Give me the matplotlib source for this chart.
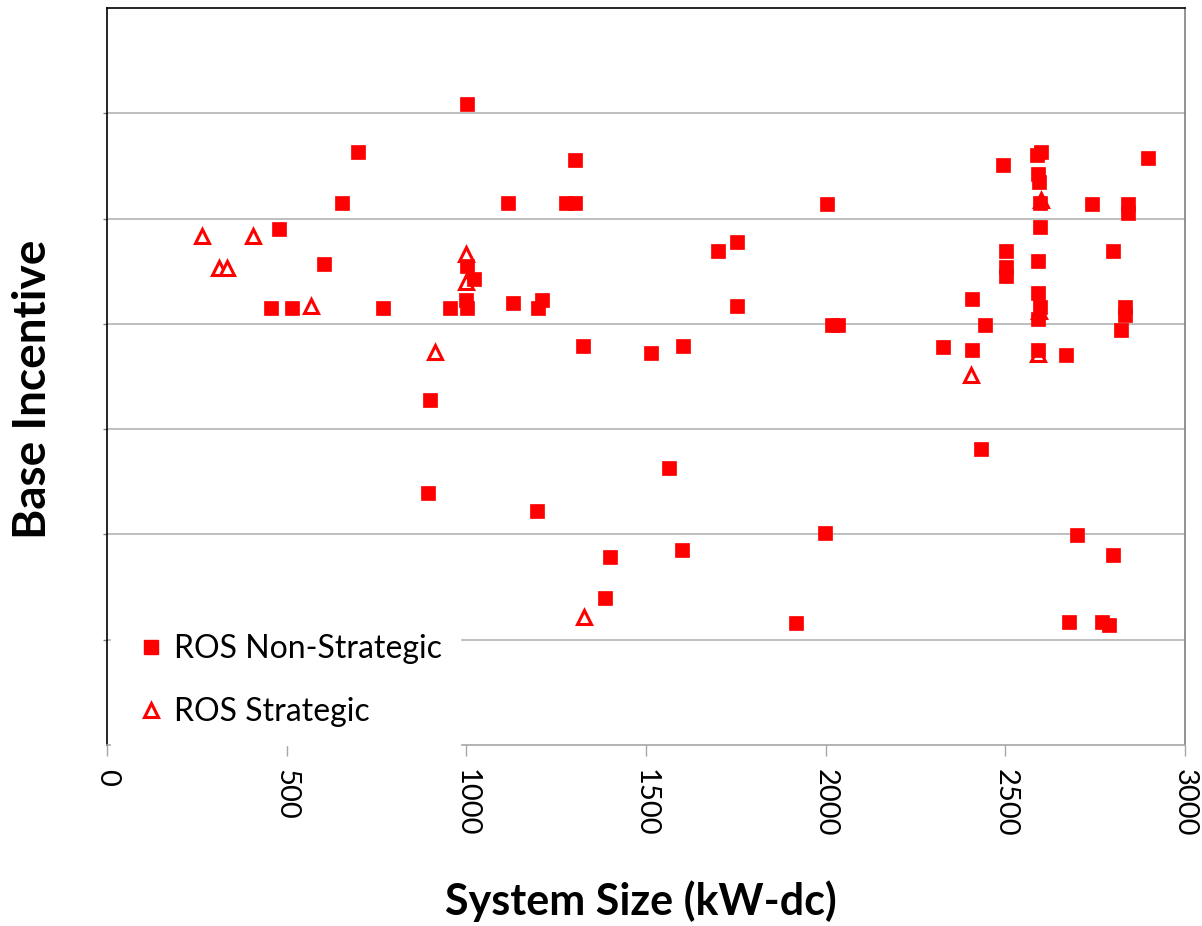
import matplotlib
matplotlib.use("Agg")
import matplotlib.pyplot as plt
from matplotlib.lines import Line2D

plt.rcParams["font.family"] = ["Lato", "DejaVu Sans"]

# ROS Non-Strategic: system size (kW-dc) and base incentive (axis has no labels)
non_strat_size = [1001, 698, 653, 480, 605, 456, 514, 768, 955, 1003, 998, 1003, 1022,
                  1302, 1115, 1277, 1302, 2003, 1701, 1752, 1129, 1210, 1200, 1752,
                  2018, 2034, 1324, 1514, 1604, 1565, 1196, 1998, 1399, 1599, 1386,
                  1917, 899, 894, 2494, 2599, 2589, 2592, 2595, 2597, 2740, 2840,
                  2840, 2896, 2597, 2501, 2503, 2503, 2592, 2800, 2407, 2592, 2597,
                  2592, 2833, 2833, 2821, 2443, 2327, 2407, 2592, 2669, 2433, 2700,
                  2800, 2676, 2768, 2789]
non_strat_inc = [6.09, 5.63, 5.15, 4.90, 4.57, 4.15, 4.15, 4.15, 4.15, 4.15, 4.23, 4.55, 4.43,
                 5.56, 5.15, 5.15, 5.15, 5.14, 4.69, 4.78, 4.20, 4.23, 4.15, 4.17,
                 3.99, 3.99, 3.79, 3.72, 3.79, 2.63, 2.22, 2.01, 1.79, 1.85, 1.40,
                 1.16, 3.28, 2.39, 5.51, 5.63, 5.60, 5.42, 5.35, 5.15, 5.14, 5.14,
                 5.05, 5.58, 4.92, 4.69, 4.54, 4.45, 4.60, 4.69, 4.24, 4.29, 4.16,
                 4.05, 4.16, 4.08, 3.94, 3.99, 3.78, 3.75, 3.75, 3.70, 2.81, 1.99,
                 1.80, 1.17, 1.17, 1.14]

# ROS Strategic
strat_size = [263, 405, 311, 333, 568, 1000, 999, 913, 1328, 2405, 2599, 2594, 2592]
strat_inc = [4.83, 4.83, 4.53, 4.53, 4.17, 4.66, 4.40, 3.73, 1.22, 3.51, 5.18, 4.12, 3.71]

x_ticks = [0, 500, 1000, 1500, 2000, 2500, 3000]
grid_levels = [1, 2, 3, 4, 5, 6]

RED = "#FF0000"

fig = plt.figure(figsize=(12.02, 9.26), dpi=100)
ax = fig.add_axes([107 / 1202, 181 / 926, 1078 / 1202, 737 / 926])

# triangles first so the squares sit on top, like the original
ax.plot(strat_size, strat_inc, ls="none", marker="^", ms=9.5, mew=2.2,
        mec=RED, mfc="white", zorder=3)
ax.plot(non_strat_size, non_strat_inc, ls="none", marker="s", ms=10.3,
        mec=RED, mfc=RED, mew=0.5, zorder=4)

ax.set_xlim(0, 3000)
ax.set_ylim(0, 7)
ax.set_xticks(x_ticks)
ax.set_xticklabels([str(v) for v in x_ticks], rotation=270, fontsize=21)
ax.set_yticks(grid_levels)
ax.set_yticklabels([])
ax.grid(axis="y", color="#B3B3B3", lw=1.2, zorder=1)
ax.set_axisbelow(True)

ax.tick_params(axis="x", direction="out", length=8, width=1, color="#A6A6A6", pad=9)
ax.tick_params(axis="y", direction="out", length=3, width=1, color="#808080")

ax.spines["left"].set_color("black")
ax.spines["top"].set_color("black")
ax.spines["right"].set_color("#808080")
ax.spines["bottom"].set_color("#A6A6A6")
for s in ax.spines.values():
    s.set_linewidth(1.2)

ax.set_xlabel("System Size (kW-dc)", fontsize=31, fontweight="bold")
ax.set_ylabel("Base Incentive", fontsize=33, fontweight="bold")
ax.xaxis.set_label_coords(0.495, -0.183)
ax.yaxis.set_label_coords(-0.049, 0.482)

handles = [
    Line2D([], [], ls="none", marker="s", ms=10.3, mec=RED, mfc=RED),
    Line2D([], [], ls="none", marker="^", ms=9.5, mew=2.2, mec=RED, mfc="white"),
]
leg = ax.legend(handles, ["ROS Non-Strategic", "ROS Strategic"], loc="lower left",
                bbox_to_anchor=(0.004, 0.0), fontsize=23, frameon=True,
                framealpha=1, facecolor="white", edgecolor="white", fancybox=False,
                handlelength=1.35, handletextpad=0.05, labelspacing=1.02,
                borderpad=0.57, borderaxespad=0.0)
leg.set_zorder(5)

fig.savefig("out.png", dpi=100)
